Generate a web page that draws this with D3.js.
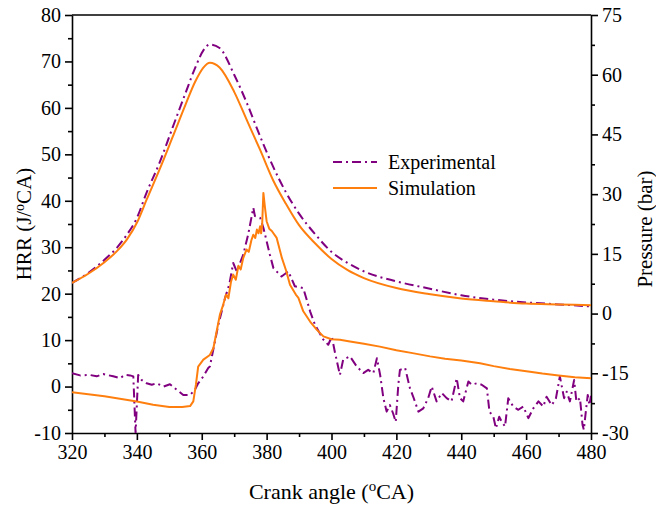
<!DOCTYPE html>
<html>
<head>
<meta charset="utf-8">
<script src="https://d3js.org/d3.v7.min.js"></script>
<style>
  body { margin: 0; background: #fff; }
  svg text { font-family: "Liberation Serif", "DejaVu Serif", "Times New Roman", Times, serif; fill: #000; }
  .axis path, .axis line { stroke: #000; stroke-width: 1.6; }
</style>
</head>
<body>
<svg id="chart" width="656" height="509"></svg>
<script>
// crank angle ticks and axis ranges
const angleTicks = [320, 340, 360, 380, 400, 420, 440, 460, 480];
const hrrTicks = [-10, 0, 10, 20, 30, 40, 50, 60, 70, 80];
const pressureTicks = [-30, -15, 0, 15, 30, 45, 60, 75];

// pressure traces (bar)
const pAngle = [320, 325, 330, 334, 337, 340, 343, 347, 351, 355, 358, 360.5, 362.5, 365.5, 370, 374, 378, 382, 386, 390, 395, 400, 405, 410, 420, 430, 440, 450, 460, 470, 480];
const pSim = [7.7, 10.0, 12.9, 15.8, 18.7, 22.8, 28.6, 36.2, 44.3, 52.5, 58.3, 61.8, 63.0, 61.8, 55.7, 48.4, 41.1, 33.5, 27.5, 22.2, 17.6, 13.7, 10.9, 8.9, 6.4, 4.9, 3.8, 3.1, 2.5, 2.3, 2.1];
const pExp = [7.7, 10.2, 13.5, 16.7, 19.9, 24.0, 30.4, 37.9, 46.7, 55.4, 61.8, 66.1, 67.6, 66.7, 60.0, 52.7, 44.5, 36.9, 30.4, 25.1, 19.9, 15.5, 12.7, 10.6, 8.1, 6.3, 4.6, 3.5, 2.8, 2.3, 1.8];

// simulated heat release rate (J/oCA)
const hrrSimAngle = [320, 330, 340, 345, 350, 354, 356.4, 357.4, 358.2, 358.9, 360.5, 362.5, 363.6, 364.6, 365.6, 366.6, 367.5, 368.2, 369, 369.7, 370.5, 371.3, 372, 372.8, 373.8, 374.5, 375.3, 375.9, 376.5, 377, 377.5, 378, 378.3, 378.6, 379, 379.5, 380, 380.8, 381.6, 383.1, 384.7, 386, 387.2, 389, 389.8, 391.3, 393.4, 395.5, 397.5, 400, 402.6, 405.7, 410, 414.9, 420, 425, 430.4, 435, 440, 445.8, 450, 455, 461.2, 465, 470, 475, 480];
const hrrSim = [-1.2, -2.1, -3.2, -3.9, -4.4, -4.4, -4.2, -3.2, 0.4, 4.3, 5.8, 6.8, 8.3, 11.9, 15.5, 17.6, 19.8, 19.0, 22.5, 24.1, 23.0, 26.0, 25.2, 27.7, 29.5, 29.0, 31.5, 32.7, 32.0, 33.8, 33.0, 34.5, 33.0, 34.5, 41.7, 38.5, 35.6, 34.0, 33.5, 32.0, 27.7, 25.0, 21.9, 19.8, 19.1, 16.2, 14.0, 12.2, 10.8, 10.2, 10.1, 9.7, 9.2, 8.6, 7.8, 7.2, 6.5, 6.0, 5.6, 5.0, 4.4, 3.8, 3.2, 2.8, 2.4, 2.0, 1.8];

// experimental heat release rate (J/oCA)
const hrrExpAngle = [320, 322.5, 325.5, 327.6, 329.6, 332.7, 334.8, 336.3, 337.9, 338.9, 339.6, 340.4, 341.5, 343, 344.6, 346.1, 348.2, 350.2, 352.3, 354.3, 356.4, 357.9, 358.9, 360.5, 362, 362.5, 365.1, 367.2, 368.5, 369.7, 370.8, 372.8, 374.3, 375.9, 376.4, 378, 379, 380, 381, 382.1, 384.6, 386.7, 388.7, 391.3, 393.4, 394.9, 397.5, 399, 400.1, 401.1, 402.6, 403.6, 405.7, 407.8, 409.8, 411.3, 412.9, 414, 415, 416, 417, 418, 419, 419.8, 420.6, 421.1, 422.7, 424.2, 425.2, 426.8, 428.3, 429.8, 430.9, 432.4, 434, 435.5, 437, 438.6, 439.6, 440.6, 442.2, 443.2, 444.8, 446.3, 447.9, 448.7, 449.9, 450.7, 451.7, 452.5, 453.5, 454.5, 456, 457.6, 459.1, 460.7, 462.2, 463.8, 465.3, 466.3, 467.9, 469.2, 470.4, 471.7, 472.5, 473.5, 474.8, 475.5, 476.6, 477.4, 477.8, 478.4, 479, 479.5, 480];
const hrrExp = [2.9, 2.4, 2.5, 2.2, 2.7, 2.2, 1.8, 2.5, 2.4, 2.2, -10, 2.5, 1.4, 0.7, 0.4, 0.7, 0, 0.5, -0.7, -1.8, -1.8, -0.7, 0.7, 2.2, 4, 4.3, 13.3, 19.1, 22, 26.6, 24.8, 28.4, 32.7, 38.5, 36.7, 36.3, 34.2, 31.3, 28.4, 25.5, 23.7, 24.8, 21.6, 21.2, 16.2, 13.3, 10.1, 9, 10.8, 7.2, 2.5, 5.8, 6.5, 4.3, 2.9, 3.6, 2.9, 6.1, 2.5, -2.5, -5.4, -4, -5.8, -7.6, 0.4, 3.6, 4, -0.4, -2.2, -5.4, -4.7, -2.5, 0, -3.2, -1.4, -2.5, -3.2, 1.8, -2.5, -3.2, 1.1, 0.4, 0.7, 0.4, -0.4, -5.4, -6.5, -9, -6.5, -7.6, -8.6, -2.5, -4.3, -5, -4.3, -6.8, -4.7, -3.2, -4.3, -2.2, -4, -2.5, 2.2, -2.5, -1.1, -3.2, 1.4, -3.2, -2.5, -8.3, -9.3, -5.4, -1.8, -4, -2];

const expColor = '#800080';
const simColor = '#ff7f0e';
const expDash = '9,4,2,4';
const serif = '"Liberation Serif", "DejaVu Serif", "Times New Roman", Times, serif';

const svg = d3.select('svg#chart');
const margins = {top: 15, right: 65, bottom: 76, left: 72};
const chartWidth = 656 - margins.left - margins.right;
const chartHeight = 509 - margins.top - margins.bottom;

const xScale = d3.scaleLinear().domain([320, 480]).range([0, chartWidth]);
const yLeft = d3.scaleLinear().domain([-10, 80]).range([chartHeight, 0]);
const yRight = d3.scaleLinear().domain([-30, 75]).range([chartHeight, 0]);

const chartArea = svg.append('g')
  .attr('transform', `translate(${margins.left},${margins.top})`);

svg.append('defs').append('clipPath').attr('id', 'clip')
  .append('rect').attr('width', chartWidth).attr('height', chartHeight);

// minor ticks first, then major axes on top
function minor(axisFn, scale, values, g) {
  g.call(axisFn(scale).tickValues(values).tickSize(4).tickFormat(''));
  g.select('.domain').remove();
}
minor(d3.axisLeft, yLeft, d3.range(-5, 80, 10),
  chartArea.append('g').attr('class', 'axis'));
minor(d3.axisBottom, xScale, d3.range(330, 480, 20),
  chartArea.append('g').attr('class', 'axis').attr('transform', `translate(0,${chartHeight})`));
minor(d3.axisRight, yRight, d3.range(-22.5, 75, 15),
  chartArea.append('g').attr('class', 'axis').attr('transform', `translate(${chartWidth},0)`));

const fmt = d => (d < 0 ? '-' : '') + Math.abs(d);
const leftAxis = chartArea.append('g').attr('class', 'axis')
  .call(d3.axisLeft(yLeft).tickValues(hrrTicks).tickFormat(fmt).tickSize(7).tickSizeOuter(0).tickPadding(4));
const bottomAxis = chartArea.append('g').attr('class', 'axis')
  .attr('transform', `translate(0,${chartHeight})`)
  .call(d3.axisBottom(xScale).tickValues(angleTicks).tickSize(7).tickSizeOuter(0).tickPadding(5));
const rightAxis = chartArea.append('g').attr('class', 'axis')
  .attr('transform', `translate(${chartWidth},0)`)
  .call(d3.axisRight(yRight).tickValues(pressureTicks).tickFormat(fmt).tickSize(7).tickSizeOuter(0).tickPadding(4));
chartArea.append('line')
  .attr('x1', 0).attr('x2', chartWidth).attr('y1', 0).attr('y2', 0)
  .attr('stroke', '#000').attr('stroke-width', 1.6);

[leftAxis, bottomAxis, rightAxis].forEach(a => {
  a.attr('font-family', serif).attr('font-size', 20);
  a.selectAll('text').style('font-family', serif).style('font-size', '20px');
});

// curves
const plot = chartArea.append('g').attr('clip-path', 'url(#clip)');

function draw(xs, ys, yScale, color, dash, curve) {
  const pts = xs.map((x, i) => [x, ys[i]]);
  plot.append('path')
    .datum(pts)
    .attr('fill', 'none')
    .attr('stroke', color)
    .attr('stroke-width', 2)
    .attr('stroke-dasharray', dash)
    .attr('stroke-linejoin', 'round')
    .attr('d', d3.line().x(d => xScale(d[0])).y(d => yScale(d[1])).curve(curve));
}
draw(pAngle, pExp, yRight, expColor, expDash, d3.curveMonotoneX);
draw(pAngle, pSim, yRight, simColor, null, d3.curveMonotoneX);
draw(hrrExpAngle, hrrExp, yLeft, expColor, expDash, d3.curveLinear);
draw(hrrSimAngle, hrrSim, yLeft, simColor, null, d3.curveLinear);

// legend
const legend = svg.append('g').attr('transform', 'translate(333,162)');
[['Experimental', expColor, expDash], ['Simulation', simColor, null]].forEach((d, i) => {
  legend.append('line')
    .attr('x1', 0).attr('x2', 44).attr('y1', i * 26).attr('y2', i * 26)
    .attr('stroke', d[1]).attr('stroke-width', 2).attr('stroke-dasharray', d[2]);
  legend.append('text')
    .attr('x', 55).attr('y', i * 26 + 7)
    .style('font-family', serif).style('font-size', '20px')
    .text(d[0]);
});

// axis titles
const xTitle = svg.append('text')
  .attr('x', margins.left + chartWidth / 2).attr('y', 499)
  .attr('text-anchor', 'middle').style('font-family', serif).style('font-size', '22px');
xTitle.append('tspan').text('Crank angle (');
xTitle.append('tspan').attr('baseline-shift', 'super').style('font-size', '15px').text('o');
xTitle.append('tspan').text('CA)');

const yTitle = svg.append('text')
  .attr('transform', `translate(31,${margins.top + chartHeight / 2}) rotate(-90)`)
  .attr('text-anchor', 'middle').style('font-family', serif).style('font-size', '21px');
yTitle.append('tspan').text('HRR (J/');
yTitle.append('tspan').attr('baseline-shift', 'super').style('font-size', '14px').text('o');
yTitle.append('tspan').text('CA)');

svg.append('text')
  .attr('transform', `translate(652,${margins.top + chartHeight / 2 + 5}) rotate(-90)`)
  .attr('text-anchor', 'middle').style('font-family', serif).style('font-size', '21px')
  .text('Pressure (bar)');
</script>
</body>
</html>
